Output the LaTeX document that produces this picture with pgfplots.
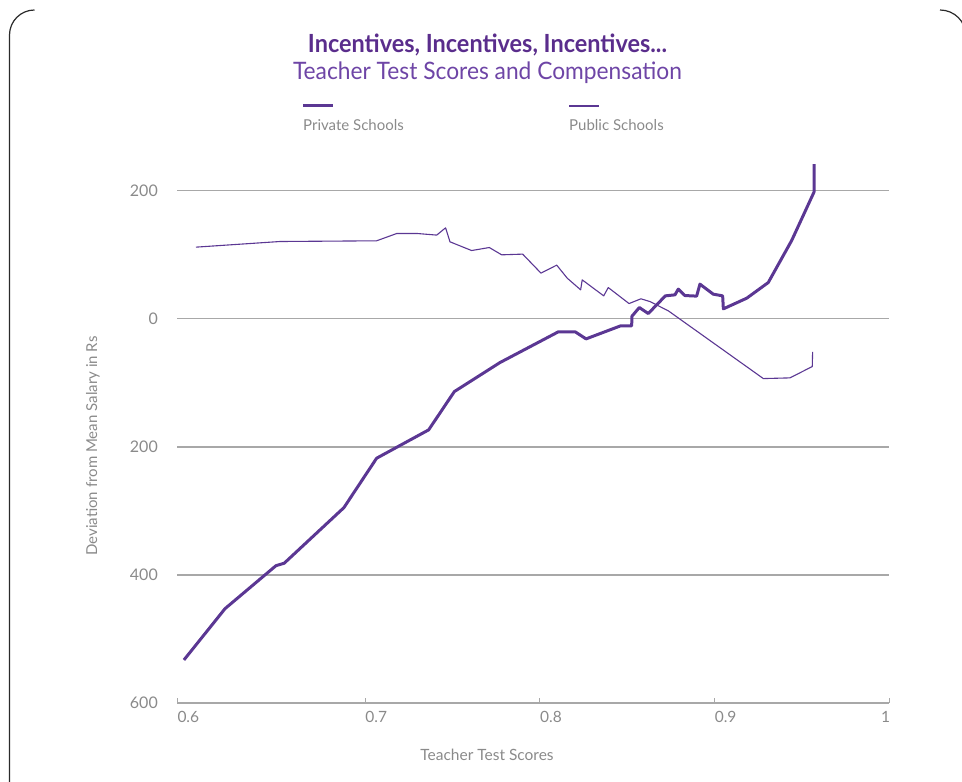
\documentclass[border=0pt]{standalone}
\usepackage{pgfplots}
\pgfplotsset{compat=1.18}
\usepackage{fontspec}
\setmainfont{Lato}
\usepackage{graphicx}

\definecolor{linepurple}{HTML}{5B3793}
\definecolor{titlepurple}{HTML}{5A2D8C}
\definecolor{subpurple}{HTML}{6E45A6}
\definecolor{labelgray}{HTML}{8A8A8A}
\definecolor{gridgray}{HTML}{A8A8A8}
\definecolor{framegray}{HTML}{2A2A2A}

\begin{document}
\begin{tikzpicture}[x=1pt,y=1pt]
  \useasboundingbox (0,0) rectangle (962,782);
  % card frame: only the corners and the sides show
  \draw[framegray, line width=1.2pt] (9.5,-5) -- (9.5,747) arc[start angle=180, end angle=90, radius=25];
  \draw[framegray, line width=1.2pt] (940,772) arc[start angle=90, end angle=0, radius=26] -- (966,-5);

  % titles
  \node[text=titlepurple] at (487.5,737)
    {\resizebox{359pt}{\height}{\fontsize{25}{30}\selectfont\bfseries Incentives, Incentives, Incentives...}};
  \node[text=subpurple] at (487.5,709)
    {\resizebox{389pt}{\height}{\fontsize{24}{29}\selectfont Teacher Test Scores and Compensation}};

  % legend
  \draw[linepurple, line width=3pt] (303,676) -- (333,676);
  \draw[linepurple, line width=1.1pt] (569,676) -- (599,676);
  \node[anchor=west, inner sep=0pt, text=labelgray, font=\fontsize{15}{18}\selectfont] at (303,657) {Private Schools};
  \node[anchor=west, inner sep=0pt, text=labelgray, font=\fontsize{15}{18}\selectfont] at (569,657) {Public Schools};

  % axis labels
  \node[rotate=90, text=labelgray, font=\fontsize{15}{18}\selectfont] at (93,336) {Deviation from Mean Salary in Rs};
  \node[text=labelgray, font=\fontsize{15.5}{18}\selectfont] at (487,27) {Teacher Test Scores};

  \begin{axis}[
      at={(177.3pt,79pt)}, anchor=south west,
      scale only axis, width=712pt, height=541pt,
      xmin=0.5924, xmax=1, ymin=-600, ymax=245,
      clip=false,
      axis x line*=bottom, axis y line*=left,
      x axis line style={gridgray, line width=1.2pt, -},
      y axis line style={draw=none},
      xtick={0.5924,0.7,0.8,0.9,1},
      xticklabels={0.6,0.7,0.8,0.9,\llap{1}},
      ytick={-600,-400,-200,0,200},
      yticklabels={600,400,200,0,200},
      xtick style={gridgray, line width=1pt},
      ytick style={draw=none},
      tick align=inside, major tick length=5pt,
      ymajorgrids, major grid style={gridgray, line width=1.3pt},
      /pgf/number format/assume math mode=true,
      x tick label style={anchor=north west, inner sep=0pt, yshift=-8.5pt,
        text=labelgray, font=\fontsize{15.5}{18}\selectfont},
      y tick label style={anchor=east, inner sep=0pt, xshift=-19.3pt,
        text=labelgray, font=\fontsize{16}{18}\selectfont},
    ]
    % Private schools
    \addplot[linepurple, line width=3pt, line join=round, mark=none] coordinates {
      (0.5962,-532.8) (0.6197,-452.7) (0.6489,-385.5) (0.6536,-381.7)
      (0.6878,-294.8) (0.7065,-217.7) (0.7363,-173.4) (0.7510,-113.6)
      (0.7771,-68.3) (0.8105,-20.3) (0.8202,-20.3) (0.8264,-31.3)
      (0.8462,-10.9) (0.8525,-10.9) (0.8527,4.2) (0.8569,17.7)
      (0.8620,8.3) (0.8718,35.9) (0.8773,37.5) (0.8792,46.4)
      (0.8830,36.4) (0.8897,35.5) (0.8916,54.2) (0.8992,38.6)
      (0.9046,35.9) (0.9050,15.6) (0.9184,32.3) (0.9307,56.7)
      (0.9441,122.3) (0.9569,198) (0.9569,241.7)
    };
    % Public schools
    \addplot[linepurple, line width=1.1pt, line join=round, mark=none] coordinates {
      (0.6031,112) (0.6512,120.8) (0.7065,121.9) (0.7180,133.3)
      (0.7298,133.3) (0.7409,130.8) (0.7460,142.2) (0.7485,120.3)
      (0.7609,106.7) (0.7710,111.4) (0.7781,100) (0.7901,101.1)
      (0.8006,71.4) (0.8096,83.9) (0.8156,63.6) (0.8233,45.3)
      (0.8242,60.9) (0.8365,35.9) (0.8391,48.9) (0.8510,23.9)
      (0.8578,31.3) (0.8630,27) (0.8735,12.5) (0.9279,-93.3)
      (0.9431,-92.2) (0.9559,-74.5) (0.9561,-51.6)
    };
  \end{axis}
\end{tikzpicture}
\end{document}
